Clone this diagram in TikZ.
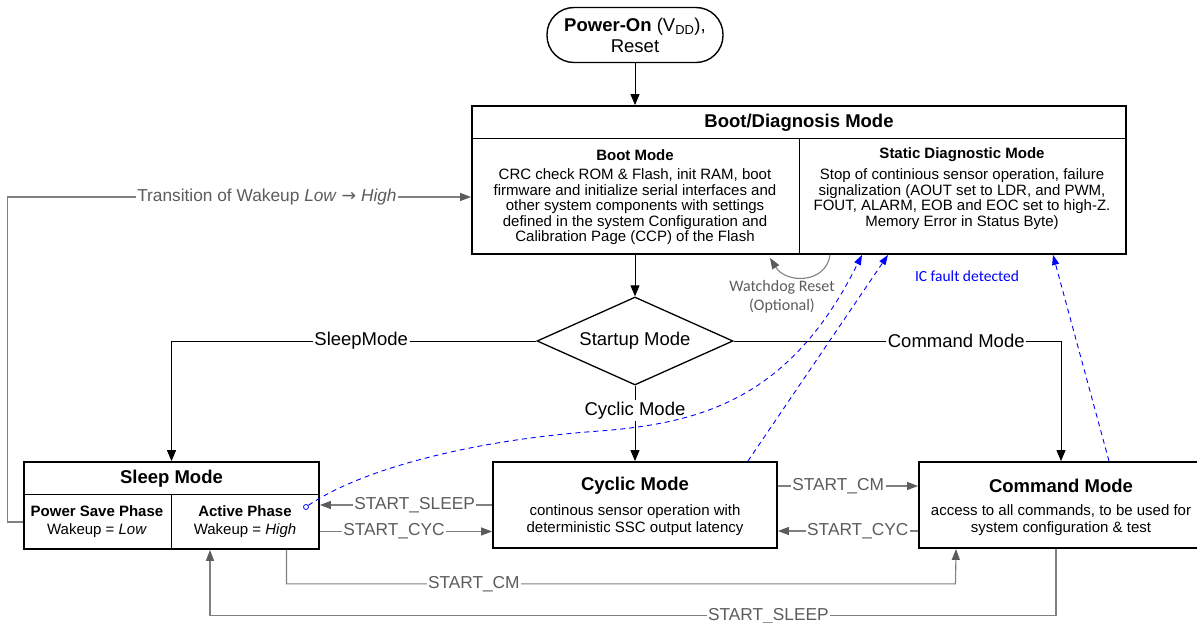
\documentclass[tikz,border=0pt]{standalone}
\usepackage{fontspec}
\setmainfont{Liberation Sans}
\newfontfamily\calibri{Carlito}
\newfontfamily\arrowfont{DejaVu Sans}
\usepackage{tikz}
\usetikzlibrary{arrows.meta}
\usetikzlibrary{calc, positioning, shapes}
\definecolor{lgray}{RGB}{128,128,128}
\definecolor{tgray}{RGB}{92,92,92}
\definecolor{fblue}{RGB}{0,0,255}
\tikzset{
    modebox/.style={draw, line width=1.8pt, inner sep=0pt},
    sub/.style={line width=0.8pt},
    flow/.style={draw, line width=1pt, -{Triangle[length=11pt,width=9pt]}},
    gflow/.style={draw=lgray, line width=1.1pt, -{Triangle[length=11pt,width=8pt,color=tgray]}},
    fault/.style={draw=fblue, line width=0.9pt, dash pattern=on 5pt off 4pt, -{Triangle[length=10pt,width=7pt]}},
    blbl/.style={fill=white, inner sep=1.5pt, font=\fontsize{18.5}{18.5}\selectfont},
    glbl/.style={fill=white, text=tgray, inner sep=1.5pt, font=\fontsize{17.3}{17.3}\selectfont},
    ttl/.style={inner sep=0pt, font=\bfseries\fontsize{18.5}{20}\selectfont},
    sttl/.style={inner sep=0pt, font=\bfseries\fontsize{15}{16}\selectfont},
    body/.style={inner sep=0pt, align=center, font=\fontsize{15}{15.5}\selectfont},
    phase/.style={inner sep=0pt, align=center, font=\fontsize{15}{18}\selectfont},
    wdl/.style={text=tgray, align=center, inner sep=0pt, font=\calibri\fontsize{16}{19}\selectfont}
}
\begin{document}
\begin{tikzpicture}[x=1pt, y=-1pt]
    \useasboundingbox (0,0) rectangle (1197,623);
    \node[modebox, line width=1.4pt, rounded corners=27pt, minimum width=176pt, minimum height=55pt, align=center, font=\fontsize{18.5}{21}\selectfont] (pwr) at (635,35) {\textbf{Power-On} (V\textsubscript{DD}),\\Reset};
    % boot / diagnosis
    \node[modebox, minimum width=654pt, minimum height=148pt] (boot) at (799,180) {};
    \node[ttl] (bootttl) at (799,123) {Boot/Diagnosis Mode};
    \draw[sub] (boot.west |- 0,138) -- (boot.east |- 0,138);
    \draw[sub] (boot.south) -- (boot.south |- 0,138);
    \node[sttl] (bootm) at (635,155) {Boot Mode};
    \node[body] (bootmtxt) at (635,207) {CRC check ROM \& Flash, init RAM, boot\\firmware and initialize serial interfaces and\\other system components with settings\\defined in the system Configuration and\\Calibration Page (CCP) of the Flash};
    \node[sttl] (diag) at (962,155) {Static Diagnostic Mode};
    \node[body] (diagtxt) at (962,199) {Stop of continious sensor operation, failure\\signalization (AOUT set to LDR, and PWM,\\FOUT, ALARM, EOB and EOC set to high-Z.\\Memory Error in Status Byte)};
    \node[draw, diamond, aspect=2.2, minimum width=196pt, minimum height=88pt, line width=1.3pt, inner sep=0pt, font=\fontsize{18.5}{20}\selectfont] (startup) at (635,341) {Startup Mode};
    % sleep
    \node[modebox, minimum width=295pt, minimum height=87pt] (sleep) at (171.5,505.5) {};
    \node[ttl] (sleepttl) at (171.5,479) {Sleep Mode};
    \draw[sub] (sleep.west |- 0,494) -- (sleep.east |- 0,494);
    \draw[sub] (sleep.south) -- (sleep.south |- 0,494);
    \node[phase] (pwrsave) at (97,522) {\textbf{Power Save Phase}\\Wakeup = \textit{Low}};
    \node[phase] (active) at (245,522) {\textbf{Active Phase}\\Wakeup = \textit{High}};
    % cyclic, command
    \node[modebox, minimum width=284pt, minimum height=86pt] (cyc) at (635,505) {};
    \node[ttl] (cycttl) at (635,486) {Cyclic Mode};
    \node[phase, font=\fontsize{15}{17}\selectfont] (cyctxt) at (635,520) {continous sensor operation with\\deterministic SSC output latency};
    \node[modebox, minimum width=290pt, minimum height=86pt] (cmd) at (1064,505) {};
    \node[ttl] (cmdttl) at (1061,486) {Command Mode};
    \node[phase, font=\fontsize{15}{17}\selectfont] (cmdtxt) at (1061,520) {access to all commands, to be used for\\system configuration \& test};

    \draw[flow] (pwr) -- (pwr |- boot.north);
    \draw[flow] (boot.south -| startup) -- (startup.north);
    \draw[flow] (startup.west) -- node[blbl, pos=.48]{SleepMode} (startup.west -| sleep.north) -- (sleep.north);
    \draw[flow] (startup.east) -- node[blbl, pos=.68]{Command Mode} (startup.east -| cmdttl) -- (cmdttl |- cmd.north);
    \draw[flow] (startup.south) -- node[blbl, pos=.33]{Cyclic Mode} (cyc.north);

    \draw[gflow] (cyc.west) -- node[glbl, pos=.45]{START\_SLEEP} (cyc.west -| sleep.east);
    \draw[gflow] ([yshift=-26pt]sleep.east) -- node[glbl, pos=.43]{START\_CYC} ([yshift=-26pt]sleep.east -| cyc.west);
    \draw[gflow] ([yshift=19pt]cyc.east) -- node[glbl, pos=.43]{START\_CM} ([yshift=19pt]cyc.east -| cmd.west);
    \draw[gflow] ([yshift=-26pt]cmd.west) -- node[glbl, pos=.43]{START\_CYC} ([yshift=-26pt]cmd.west -| cyc.east);
    \draw[gflow] ([xshift=115pt]sleep.south) -- ++(0,34) -- node[glbl, pos=.28]{START\_CM} ++(669,0) -- ([xshift=-108pt]cmd.south);
    \draw[gflow] ([xshift=-8pt]cmd.south) -- ++(0,67) -| node[glbl, pos=.17]{START\_SLEEP} ([xshift=38.5pt]sleep.south);
    \draw[gflow] ([yshift=-16.5pt]sleep.west) -- ++(-16,0) |- node[glbl, pos=.78]{Transition of Wakeup \textit{Low} {\arrowfont →} \textit{High}} ([yshift=-17pt]boot.west);
    \draw[gflow] ([xshift=31pt]boot.south) .. controls +(-4,29) and +(16,26) .. ([xshift=-29pt,yshift=-3pt]boot.south);
    \node[wdl] (wdog) at (782,297) {Watchdog Reset\\(Optional)};

    \node[draw=fblue, circle, inner sep=0pt, minimum size=5pt, line width=0.8pt] (wake) at (306,507) {};
    \draw[fault] (wake) .. controls (360,470) and (470,440) .. (600,431) .. controls (700,423) and (790,400) .. ([xshift=63pt]boot.south);
    \draw[fault] ([xshift=-30pt]cyc.north east) -- ([xshift=89pt]boot.south);
    \draw[fault] ([xshift=45pt]cmd.north) -- ([xshift=254pt]boot.south);
    \node[text=fblue, inner sep=0pt, font=\calibri\fontsize{15.5}{15.5}\selectfont] (icf) at (967,276) {IC fault detected};
\end{tikzpicture}
\end{document}
